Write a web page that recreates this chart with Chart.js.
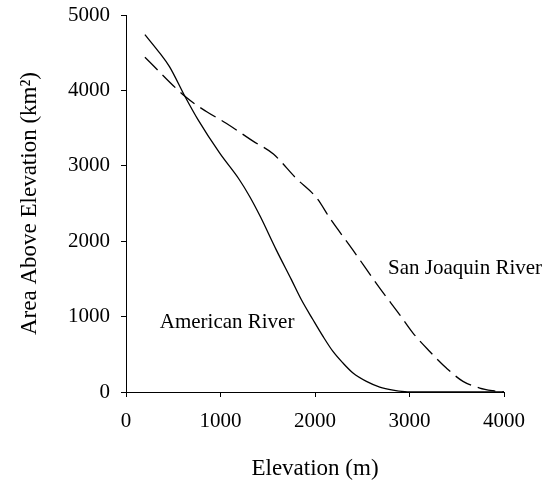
<!DOCTYPE html>
<html>
<head>
<meta charset="utf-8">
<script src="https://cdn.jsdelivr.net/npm/chart.js@4"></script>
<style>
  html, body { margin: 0; padding: 0; background: #fff; }
  #wrap { width: 557px; height: 485px; }
</style>
</head>
<body>
<div id="wrap"><canvas id="hypso" width="557" height="485"></canvas></div>
<script>
  // American River (solid)
  const americanElev = [200, 360, 460, 630, 760, 990, 1200, 1310, 1420, 1590, 1750, 1856, 1979, 2085, 2190, 2296, 2402, 2544, 2685, 2825, 2950, 3100, 4000];
  const americanArea = [4740, 4490, 4315, 3905, 3615, 3170, 2815, 2590, 2330, 1885, 1490, 1223, 958, 737, 538, 384, 252, 141, 66, 25, 5, 0, 0];

  // San Joaquin River (dashed)
  const sanJoaquinElev = [200, 630, 850, 1060, 1340, 1560, 1800, 2020, 2160, 2400, 2685, 2897, 3037, 3214, 3390, 3566, 3743, 3884, 4000];
  const sanJoaquinArea = [4440, 3915, 3720, 3565, 3330, 3155, 2835, 2570, 2300, 1885, 1378, 1024, 782, 538, 318, 141, 53, 17, 0];

  const xTicks = [0, 1000, 2000, 3000, 4000];
  const yTicks = [0, 1000, 2000, 3000, 4000, 5000];

  const toPoints = (xs, ys) => xs.map((x, i) => ({ x: x, y: ys[i] }));

  const serif = 'Liberation Serif, Times New Roman, serif';

  // Labels written next to the curves
  const curveLabels = {
    id: 'curveLabels',
    afterDatasetsDraw(chart) {
      const { ctx, scales: { x, y } } = chart;
      ctx.save();
      ctx.fillStyle = '#000';
      ctx.font = '21px ' + serif;
      ctx.textBaseline = 'middle';
      ctx.textAlign = 'left';
      ctx.fillText('American River', x.getPixelForValue(357), y.getPixelForValue(918));
      ctx.fillText('San Joaquin River', x.getPixelForValue(2773), y.getPixelForValue(1643));
      ctx.restore();
    }
  };

  new Chart(document.getElementById('hypso'), {
    type: 'line',
    data: {
      datasets: [
        {
          label: 'American River',
          data: toPoints(americanElev, americanArea),
          borderColor: '#000',
          borderWidth: 1.3,
          pointRadius: 0,
          cubicInterpolationMode: 'monotone',
          fill: false
        },
        {
          label: 'San Joaquin River',
          data: toPoints(sanJoaquinElev, sanJoaquinArea),
          borderColor: '#000',
          borderWidth: 1.3,
          borderDash: [18, 7],
          pointRadius: 0,
          cubicInterpolationMode: 'monotone',
          fill: false
        }
      ]
    },
    options: {
      responsive: false,
      animation: false,
      devicePixelRatio: 1,
      layout: { padding: { top: 15, right: 53, left: 0, bottom: 0 } },
      plugins: {
        legend: { display: false },
        tooltip: { enabled: false }
      },
      scales: {
        x: {
          type: 'linear',
          min: 0,
          max: 4000,
          afterBuildTicks: (scale) => { scale.ticks = xTicks.map(v => ({ value: v })); },
          afterFit: (scale) => {
            scale.height = 93;
            scale.paddingLeft = 0;
            scale.paddingRight = 0;
          },
          ticks: {
            color: '#000',
            font: { family: serif, size: 21 },
            padding: 12,
            maxRotation: 0,
            callback: (v) => String(v)
          },
          grid: { drawOnChartArea: false, drawTicks: true, tickLength: 5, color: '#000' },
          border: { display: true, color: '#000', width: 1 },
          title: {
            display: true,
            text: 'Elevation (m)',
            color: '#000',
            font: { family: serif, size: 23 },
            padding: { top: 0, bottom: 2 }
          }
        },
        y: {
          type: 'linear',
          min: 0,
          max: 5000,
          afterBuildTicks: (scale) => { scale.ticks = yTicks.map(v => ({ value: v })); },
          afterFit: (scale) => {
            scale.width = 126;
            scale.paddingTop = 0;
            scale.paddingBottom = 0;
          },
          ticks: {
            color: '#000',
            font: { family: serif, size: 21 },
            padding: 11,
            callback: (v) => String(v)
          },
          grid: { drawOnChartArea: false, drawTicks: true, tickLength: 5, color: '#000' },
          border: { display: true, color: '#000', width: 1 },
          title: {
            display: true,
            text: 'Area Above Elevation (km²)',
            color: '#000',
            font: { family: serif, size: 23 },
            padding: { top: 16, bottom: 0 }
          }
        }
      }
    },
    plugins: [curveLabels]
  });
</script>
</body>
</html>
